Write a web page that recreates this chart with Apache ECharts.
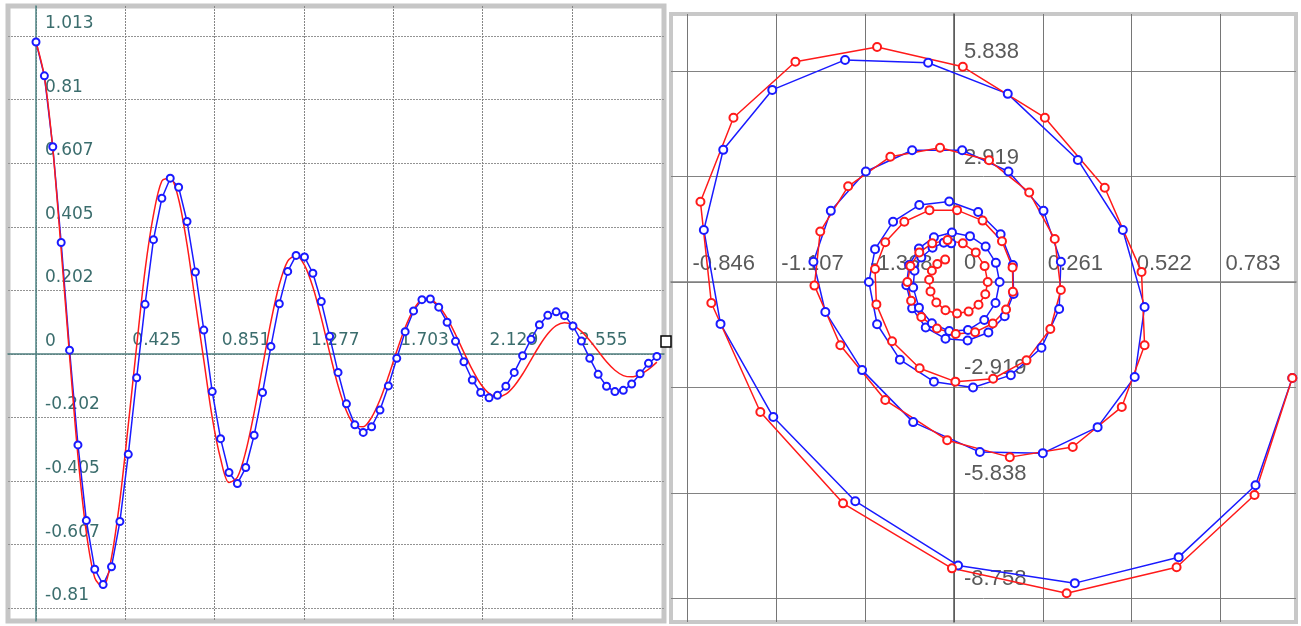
<!DOCTYPE html>
<html lang="en">
<head>
<meta charset="utf-8" />
<title>Damped oscillation</title>
<style>
  html, body { margin: 0; padding: 0; background: #fff; }
  #main { width: 1301px; height: 626px; }
</style>
</head>
<body>
<div id="main"></div>
<script src="https://cdn.jsdelivr.net/npm/echarts@6.0.0/dist/echarts.min.js"></script>
<script>
// sample times (left panel x axis)
var tSamp = [0, 0.04, 0.08, 0.12, 0.16, 0.20, 0.24, 0.28, 0.32, 0.36, 0.40, 0.44, 0.48, 0.52, 0.56, 0.60, 0.64, 0.68, 0.72, 0.76,
  0.80, 0.84, 0.88, 0.92, 0.96, 1.00, 1.04, 1.08, 1.12, 1.16, 1.20, 1.24, 1.28, 1.32, 1.36, 1.40, 1.44, 1.48, 1.52, 1.56,
  1.60, 1.64, 1.68, 1.72, 1.76, 1.80, 1.84, 1.88, 1.92, 1.96, 2.00, 2.04, 2.08, 2.12, 2.16, 2.20, 2.24, 2.28, 2.32, 2.36,
  2.40, 2.44, 2.48, 2.52, 2.56, 2.60, 2.64, 2.68, 2.72, 2.76, 2.80, 2.84, 2.88, 2.92, 2.96];

// blue run: position and velocity
var xBlue = [0.994, 0.886, 0.660, 0.355, 0.012, -0.290, -0.531, -0.686, -0.735, -0.678, -0.534, -0.320, -0.076, 0.158, 0.364, 0.496, 0.560, 0.531, 0.422, 0.261,
  0.076, -0.120, -0.270, -0.378, -0.413, -0.362, -0.259, -0.123, 0.024, 0.160, 0.263, 0.314, 0.309, 0.257, 0.167, 0.056, -0.059, -0.159, -0.226, -0.250,
  -0.232, -0.179, -0.102, -0.014, 0.071, 0.137, 0.173, 0.175, 0.149, 0.101, 0.040, -0.025, -0.083, -0.123, -0.140, -0.132, -0.103, -0.059, -0.006, 0.047,
  0.093, 0.123, 0.134, 0.122, 0.089, 0.041, -0.014, -0.065, -0.103, -0.120, -0.116, -0.096, -0.063, -0.030, -0.008];
var vBlue = [-2.66, -5.63, -7.62, -8.34, -7.85, -6.07, -3.74, -1.16, 1.44, 3.66, 5.32, 6.15, 6.07, 5.21, 3.38, 1.44, -0.69, -2.63, -4.02, -4.74,
  -4.71, -3.88, -2.44, -0.83, 0.56, 1.97, 3.06, 3.65, 3.65, 3.06, 1.97, 0.56, -0.75, -1.82, -2.58, -2.92, -2.76, -2.15, -1.17, 0.00,
  0.91, 1.67, 2.13, 2.23, 1.94, 1.32, 0.47, -0.33, -0.95, -1.40, -1.62, -1.57, -1.26, -0.73, -0.09, 0.47, 0.93, 1.24, 1.37, 1.27,
  0.98, 0.53, 0.00, -0.58, -1.05, -1.33, -1.36, -1.14, -0.71, -0.15, 0.31, 0.68, 0.95, 1.09, 1.07];

// red run: position and velocity
var xRed = [0.994, 0.883, 0.654, 0.331, -0.006, -0.326, -0.569, -0.713, -0.745, -0.648, -0.466, -0.226, 0.026, 0.267, 0.443, 0.551, 0.560, 0.493, 0.349, 0.164,
  -0.020, -0.202, -0.334, -0.410, -0.393, -0.311, -0.187, -0.041, 0.103, 0.221, 0.296, 0.314, 0.283, 0.213, 0.115, 0.004, -0.101, -0.182, -0.228, -0.232,
  -0.202, -0.146, -0.072, 0.009, 0.084, 0.141, 0.172, 0.173, 0.153, 0.114, 0.062, 0.005, -0.050, -0.096, -0.126, -0.137, -0.128, -0.102, -0.064, -0.019,
  0.026, 0.064, 0.090, 0.099, 0.092, 0.072, 0.043, 0.009, -0.025, -0.052, -0.069, -0.073, -0.065, -0.049, -0.026];
var vRed = [-2.66, -5.90, -7.90, -8.62, -7.93, -6.13, -3.60, -0.58, 2.22, 4.55, 6.10, 6.51, 5.96, 4.55, 2.61, 0.28, -1.75, -3.46, -4.57, -4.85,
  -4.38, -3.27, -1.75, -0.10, 1.40, 2.65, 3.47, 3.72, 3.37, 2.48, 1.19, -0.22, -1.30, -2.17, -2.68, -2.76, -2.39, -1.64, -0.62, 0.36,
  1.10, 1.67, 1.99, 1.99, 1.70, 1.13, 0.40, -0.27, -0.76, -1.15, -1.39, -1.44, -1.29, -0.97, -0.52, 0.00, 0.44, 0.82, 1.07, 1.16,
  1.07, 0.82, 0.44, 0.00, -0.34, -0.63, -0.82, -0.87, -0.78, -0.57, -0.26, 0.06, 0.31, 0.50, 0.62];

// tick positions and the label text printed at them ('' where the other axis already prints "0")
var tTicks = [0, 0.4258, 0.8516, 1.2774, 1.7032, 2.129, 2.5548];
var tTickText = ['', '0.425', '0.851', '1.277', '1.703', '2.129', '2.555'];
var yTicks = [-0.8104, -0.6078, -0.4052, -0.2026, 0, 0.2026, 0.4052, 0.6078, 0.8104, 1.013];
var yTickText = ['-0.81', '-0.607', '-0.405', '-0.202', '0', '0.202', '0.405', '0.607', '0.81', '1.013'];
var pxTicks = [-0.783, -0.522, -0.261, 0, 0.261, 0.522, 0.783];
var pxTickText = ['-0.846', '-1.107', '-1.368', '', '0.261', '0.522', '0.783'];
var pvTicks = [-8.757, -5.838, -2.919, 0, 2.919, 5.838];
var pvTickText = ['-8.758', '-5.838', '-2.919', '0', '2.919', '5.838'];

function labelFor(ticks, texts) {
  return function (val) {
    for (var i = 0; i < ticks.length; i++) {
      if (Math.abs(ticks[i] - val) < 1e-6) return texts[i];
    }
    return '';
  };
}

function zip(a, b) {
  var out = [];
  for (var i = 0; i < a.length; i++) out.push([a[i], b[i]]);
  return out;
}

// axis offset that puts the axis (line + labels) at value 0 of the other axis
function zeroOffset(min, max, size) {
  return -(0 - min) / (max - min) * size;
}

var blue = '#1a1aff';
var red = '#ff1a1a';
var leftText = { color: '#3b6d6d', fontFamily: 'DejaVu Sans', fontSize: 17 };
var rightText = { color: '#5a5a5a', fontFamily: 'Liberation Sans', fontSize: 22 };

var g0 = { left: 8, top: 6, width: 656, height: 615 };
var g1 = { left: 671, top: 14, width: 625, height: 608 };
var tMin = -0.1335, tMax = 2.994, yMin = -0.851, yMax = 1.1086;
var pxMin = -0.8315, pxMax = 1.0049, pvMin = -9.416, pvMax = 7.422;

var chart = echarts.init(document.getElementById('main'));

var option = {
  animation: false,
  backgroundColor: '#fff',
  grid: [
    Object.assign({ show: true, borderColor: '#c6c6c6', borderWidth: 5, backgroundColor: '#fff' }, g0),
    Object.assign({ show: true, borderColor: '#c8c8c8', borderWidth: 4, backgroundColor: '#fff' }, g1)
  ],
  xAxis: [
    {
      gridIndex: 0, type: 'value', min: tMin, max: tMax,
      offset: zeroOffset(yMin, yMax, g0.height),
      axisLine: { onZero: false, lineStyle: { color: '#4f7f7f', width: 1.5 } },
      axisTick: { show: false, customValues: tTicks },
      axisLabel: Object.assign({ inside: true, margin: 5, align: 'left', padding: [0, 0, 0, 7],
        customValues: tTicks, formatter: labelFor(tTicks, tTickText) }, leftText),
      splitLine: { show: true, lineStyle: { color: '#858585', width: 1, type: [2, 1] } }
    },
    {
      gridIndex: 1, type: 'value', min: pxMin, max: pxMax,
      offset: zeroOffset(pvMin, pvMax, g1.height),
      axisLine: { onZero: false, lineStyle: { color: '#808080', width: 1.5 } },
      axisTick: { show: false, customValues: pxTicks },
      axisLabel: Object.assign({ inside: true, margin: 7, align: 'left', padding: [0, 0, 0, 5],
        customValues: pxTicks, formatter: labelFor(pxTicks, pxTickText) }, rightText),
      splitLine: { show: true, lineStyle: { color: '#767676', width: 1 } }
    }
  ],
  yAxis: [
    {
      gridIndex: 0, type: 'value', min: yMin, max: yMax,
      offset: zeroOffset(tMin, tMax, g0.width),
      axisLine: { onZero: false, lineStyle: { color: '#4f8585', width: 1.5 } },
      axisTick: { show: false, customValues: yTicks },
      axisLabel: Object.assign({ inside: true, margin: 9, verticalAlign: 'bottom', padding: [0, 0, 4, 0],
        customValues: yTicks, formatter: labelFor(yTicks, yTickText) }, leftText),
      splitLine: { show: true, lineStyle: { color: '#939393', width: 1, type: [2, 1] } }
    },
    {
      gridIndex: 1, type: 'value', min: pvMin, max: pvMax,
      offset: zeroOffset(pxMin, pxMax, g1.width),
      axisLine: { onZero: false, lineStyle: { color: '#555', width: 1.5 } },
      axisTick: { show: false, customValues: pvTicks },
      axisLabel: Object.assign({ inside: true, margin: 10, verticalAlign: 'bottom', padding: [0, 0, 8, 0],
        customValues: pvTicks, formatter: labelFor(pvTicks, pvTickText) }, rightText),
      splitLine: { show: true, lineStyle: { color: '#828282', width: 1 } }
    }
  ],
  graphic: [
    { type: 'rect', shape: { x: 661, y: 336, width: 10, height: 11 }, style: { fill: '#fff', stroke: '#000', lineWidth: 1.5 }, z: 100 }
  ],
  series: [
    {
      name: 'blue-t', type: 'line', xAxisIndex: 0, yAxisIndex: 0,
      data: zip(tSamp, xBlue),
      symbol: 'emptyCircle', symbolSize: 7, showAllSymbol: true,
      lineStyle: { color: blue, width: 1.5 },
      itemStyle: { color: blue, borderWidth: 1.2 }
    },
    {
      name: 'red-t', type: 'line', xAxisIndex: 0, yAxisIndex: 0,
      data: zip(tSamp, xRed), smooth: 0.3,
      showSymbol: false,
      lineStyle: { color: red, width: 1.5 },
      itemStyle: { color: red }
    },
    {
      name: 'blue-phase', type: 'line', xAxisIndex: 1, yAxisIndex: 1,
      data: zip(xBlue, vBlue),
      symbol: 'emptyCircle', symbolSize: 8, showAllSymbol: true,
      lineStyle: { color: blue, width: 1.5 },
      itemStyle: { color: blue, borderWidth: 1.2 }
    },
    {
      name: 'red-phase', type: 'line', xAxisIndex: 1, yAxisIndex: 1,
      data: zip(xRed, vRed),
      symbol: 'emptyCircle', symbolSize: 8, showAllSymbol: true,
      lineStyle: { color: red, width: 1.5 },
      itemStyle: { color: red, borderWidth: 1.2 }
    }
  ]
};

chart.setOption(option);
</script>
</body>
</html>
